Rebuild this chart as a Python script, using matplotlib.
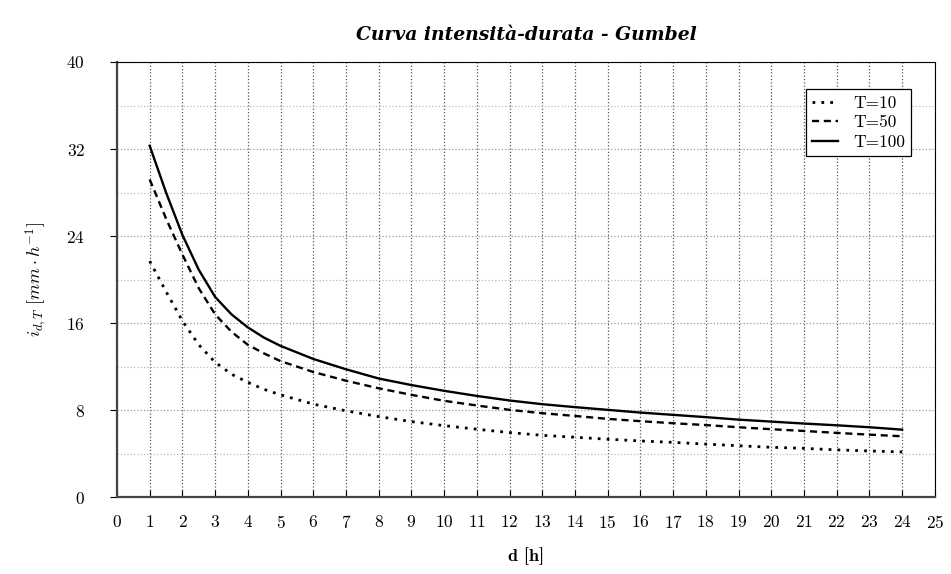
import matplotlib
matplotlib.use("Agg")
import matplotlib.pyplot as plt
from matplotlib.ticker import MultipleLocator

plt.rcParams['font.family'] = ['cmr10', 'DejaVu Serif']
plt.rcParams['mathtext.fontset'] = 'cm'
plt.rcParams['axes.formatter.use_mathtext'] = True

# durata [h]
durata = [1, 1.5, 2, 2.5, 3, 3.5, 4, 4.5, 5, 6, 7, 8, 9, 10, 11, 12,
          13, 14, 15, 16, 17, 18, 19, 20, 21, 22, 23, 24]

# intensità [mm/h] per tempo di ritorno
i_T10 = [21.7, 18.9, 16.2, 14.0, 12.4, 11.3, 10.55, 9.9, 9.4, 8.55, 7.93, 7.4,
         6.94, 6.57, 6.24, 5.93, 5.68, 5.5, 5.32, 5.16, 5.03, 4.87, 4.72, 4.58,
         4.48, 4.34, 4.24, 4.15]
i_T50 = [29.2, 25.6, 22.3, 19.2, 16.8, 15.2, 14.0, 13.2, 12.5, 11.5, 10.7, 10.0,
         9.4, 8.85, 8.42, 8.02, 7.71, 7.46, 7.19, 6.98, 6.79, 6.62, 6.42, 6.24,
         6.08, 5.9, 5.74, 5.59]
i_T100 = [32.3, 28.0, 24.1, 20.9, 18.4, 16.8, 15.6, 14.65, 13.9, 12.7, 11.75, 10.9,
          10.3, 9.77, 9.3, 8.88, 8.54, 8.27, 8.02, 7.77, 7.56, 7.35, 7.12, 6.94,
          6.76, 6.6, 6.42, 6.2]

fig = plt.figure(figsize=(9.51, 5.74), dpi=100)
ax = fig.add_axes([0.123, 0.134, 0.860, 0.758])

ax.plot(durata, i_T10, color='k', lw=2.0, linestyle=(0, (1, 2.2)), label='T=10')
ax.plot(durata, i_T50, color='k', lw=1.7, linestyle=(0, (3, 2)), label='T=50')
ax.plot(durata, i_T100, color='k', lw=1.7, linestyle='-', label='T=100')

ax.set_xlim(0, 25)
ax.set_ylim(0, 40)
ax.xaxis.set_major_locator(MultipleLocator(1))
ax.yaxis.set_major_locator(MultipleLocator(8))
ax.yaxis.set_minor_locator(MultipleLocator(4))

# griglia
ax.grid(True, axis='x', which='major', linestyle=':', color='#555555', lw=0.9)
ax.grid(True, axis='y', which='major', linestyle=':', color='#999999', lw=0.9)
ax.grid(True, axis='y', which='minor', linestyle=':', color='#bbbbbb', lw=0.9)
ax.set_axisbelow(True)

ax.tick_params(axis='x', direction='in', length=5, width=0.8, pad=12, labelsize=12.5)
ax.tick_params(axis='y', which='major', direction='out', length=5, width=0.8, pad=18, labelsize=12.5)
ax.tick_params(axis='y', which='minor', length=0)

for s in ['left', 'bottom']:
    ax.spines[s].set_linewidth(1.6)
    ax.spines[s].set_color('#444444')
for s in ['top', 'right']:
    ax.spines[s].set_linewidth(0.8)
    ax.spines[s].set_color('k')

ax.set_title('Curva intensità-durata - Gumbel', family='DejaVu Serif',
             style='italic', weight='bold', fontsize=13.5, pad=16)
ax.set_xlabel('d [h]', family='cmb10', fontsize=13, labelpad=12)
ax.set_ylabel(r'$i_{d,T}\ [mm \cdot h^{-1}]$', fontsize=13, labelpad=12)

leg = ax.legend(loc='upper right', bbox_to_anchor=(0.982, 0.957), fontsize=12.5,
                fancybox=False, framealpha=1, edgecolor='k', handlelength=1.5,
                handletextpad=0.9, borderpad=0.35, labelspacing=0.25)
leg.get_frame().set_linewidth(0.9)

fig.savefig('out.png', dpi=100)
